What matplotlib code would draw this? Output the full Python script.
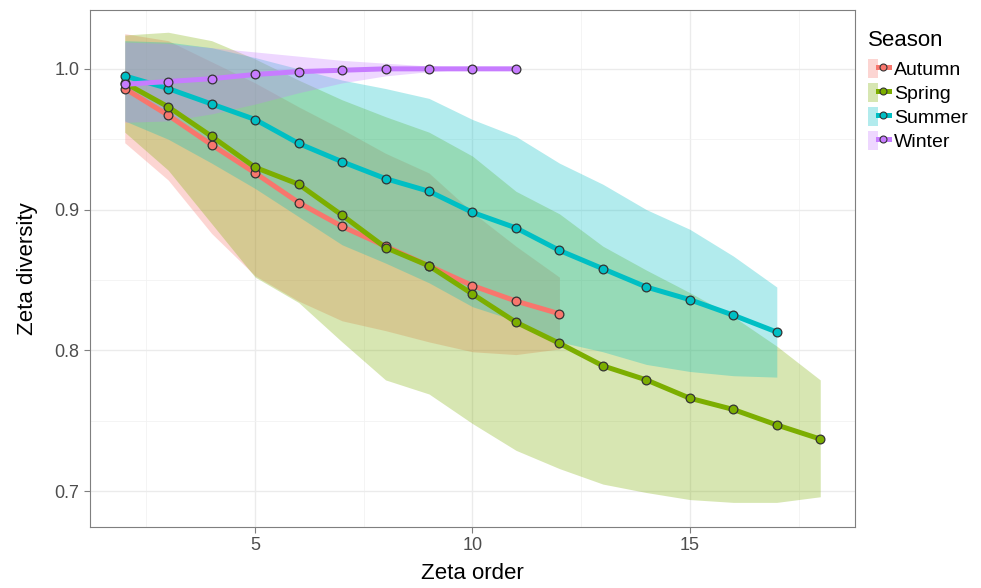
import numpy as np
import matplotlib
matplotlib.use("Agg")
import matplotlib.pyplot as plt
from matplotlib.patches import Patch
from matplotlib.lines import Line2D
from matplotlib.legend_handler import HandlerTuple

plt.rcParams['font.family'] = ['Liberation Sans', 'DejaVu Sans']

seasons = ['Autumn', 'Spring', 'Summer', 'Winter']
colors = ['#F8766D', '#7CAE00', '#00BFC4', '#C77CFF']

# zeta order per season
autumn_x = list(range(2, 13))
spring_x = list(range(2, 19))
summer_x = list(range(2, 18))
winter_x = list(range(2, 12))

# mean zeta diversity
autumn_y = [0.986, 0.967, 0.946, 0.926, 0.905, 0.888, 0.874, 0.860, 0.846, 0.835, 0.826]
spring_y = [0.990, 0.973, 0.952, 0.930, 0.918, 0.896, 0.873, 0.860, 0.840, 0.820, 0.805,
            0.789, 0.779, 0.766, 0.758, 0.747, 0.737]
summer_y = [0.995, 0.986, 0.975, 0.964, 0.947, 0.934, 0.922, 0.913, 0.898, 0.887, 0.871,
            0.858, 0.845, 0.836, 0.825, 0.813]
winter_y = [0.989, 0.991, 0.993, 0.996, 0.998, 0.999, 1.000, 1.000, 1.000, 1.000]

# ribbon lower / upper bounds
autumn_lo = [0.9475, 0.921, 0.883, 0.853, 0.835, 0.821, 0.814, 0.806, 0.799, 0.797, 0.801]
autumn_hi = [1.025, 1.020, 1.005, 0.990, 0.973, 0.957, 0.940, 0.926, 0.898, 0.874, 0.852]
spring_lo = [0.955, 0.928, 0.890, 0.852, 0.834, 0.806, 0.779, 0.769, 0.748, 0.729, 0.716,
             0.705, 0.699, 0.694, 0.692, 0.692, 0.696]
spring_hi = [1.024, 1.026, 1.020, 1.007, 0.992, 0.978, 0.966, 0.955, 0.938, 0.913, 0.897,
             0.874, 0.857, 0.841, 0.824, 0.803, 0.779]
summer_lo = [0.963, 0.950, 0.933, 0.915, 0.895, 0.875, 0.862, 0.848, 0.831, 0.821, 0.806,
             0.799, 0.790, 0.785, 0.782, 0.781]
summer_hi = [1.020, 1.019, 1.015, 1.008, 1.000, 0.992, 0.986, 0.979, 0.964, 0.952, 0.933,
             0.918, 0.900, 0.886, 0.867, 0.845]
winter_lo = [0.962, 0.963, 0.968, 0.975, 0.983, 0.990, 0.995, 0.998, 1.000, 1.000]
winter_hi = [1.019, 1.018, 1.015, 1.012, 1.009, 1.006, 1.004, 1.002, 1.001, 1.000]

xs = [autumn_x, spring_x, summer_x, winter_x]
ys = [autumn_y, spring_y, summer_y, winter_y]
los = [autumn_lo, spring_lo, summer_lo, winter_lo]
his = [autumn_hi, spring_hi, summer_hi, winter_hi]

fig = plt.figure(figsize=(9.81, 5.88), dpi=100)
ax = fig.add_axes([0.0917, 0.1037, 0.7799, 0.8793])

RIB_ALPHA = 0.3
for x, lo, hi, c in zip(xs, los, his, colors):
    ax.fill_between(x, lo, hi, color=c, alpha=RIB_ALPHA, linewidth=0, zorder=2)
for x, y, c in zip(xs, ys, colors):
    ax.plot(x, y, color=c, lw=3.6, solid_capstyle='butt', zorder=3)
for x, y, c in zip(xs, ys, colors):
    ax.plot(x, y, ls='none', marker='o', ms=6.3, mfc=c, mec='#333333', mew=0.9, zorder=4)

ax.set_xlim(1.2, 18.8)
ax.set_ylim(0.6745, 1.0418)
ax.set_xticks([5, 10, 15])
ax.set_xticks([2.5, 7.5, 12.5, 17.5], minor=True)
ax.set_yticks([0.7, 0.8, 0.9, 1.0])
ax.set_yticks([0.75, 0.85, 0.95], minor=True)
ax.set_yticklabels(['0.7', '0.8', '0.9', '1.0'])
ax.grid(which='major', color='#EBEBEB', lw=1.0, zorder=0)
ax.grid(which='minor', color='#F2F2F2', lw=0.6, zorder=0)
ax.set_axisbelow(True)
for s in ax.spines.values():
    s.set_color('#7F7F7F')
    s.set_linewidth(0.8)
ax.tick_params(which='major', length=4.5, color='#7F7F7F', labelsize=13, labelcolor='#4D4D4D',
               width=0.8, pad=3)
ax.tick_params(which='minor', length=0)
ax.set_xlabel('Zeta order', fontsize=16, labelpad=6)
ax.set_ylabel('Zeta diversity', fontsize=16, labelpad=12)

handles = []
for c in colors:
    handles.append((Patch(facecolor=c, alpha=RIB_ALPHA, edgecolor='none'),
                    Line2D([], [], color=c, lw=3.6, marker='o', ms=5, mfc=c, mec='#333333', mew=0.8)))
leg = fig.legend(handles, seasons, loc='upper left', bbox_to_anchor=(0.877, 0.962),
                 title='Season', frameon=False, fontsize=14, title_fontsize=16,
                 handler_map={tuple: HandlerTuple(ndivide=None, pad=0)},
                 handlelength=1.05, handleheight=1.1, handletextpad=0.3, labelspacing=0.2,
                 borderaxespad=0)
leg._legend_box.align = 'left'
leg._legend_box.sep = 6

fig.savefig('out.png', dpi=100)
